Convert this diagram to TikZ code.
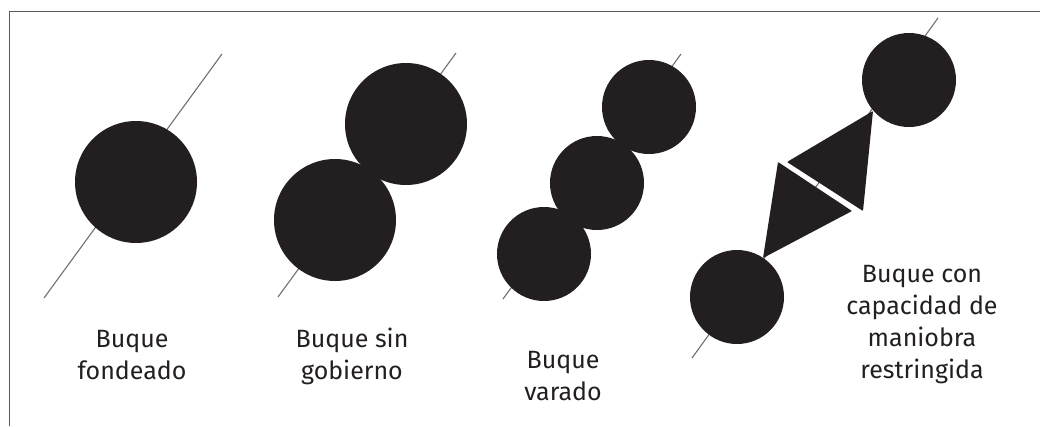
\documentclass[tikz,border=0pt]{standalone}
\usepackage{fontspec}
\setmainfont{Fira Sans}
\usetikzlibrary{positioning}
\definecolor{ink}{HTML}{231F20}
\definecolor{ropegray}{HTML}{707070}
\tikzset{
  disc/.style    = {circle, fill=ink, inner sep=0pt, minimum size=#1},
  disc/.default  = 94pt,
  rope/.style    = {ropegray, line width=1.1pt},
  frame/.style   = {draw=black!65, line width=1.8pt},
  cone/.style    = {fill=ink, rounded corners=0.8pt},
  lbl/.style     = {align=center, anchor=base, inner sep=0pt, text=ink,
                    font=\fontsize{25}{32}\selectfont},
}
\begin{document}
\begin{tikzpicture}[x=1pt,y=-1pt]
  \useasboundingbox (0,0) rectangle (1040,426);
  \draw[frame] (9.5,426) -- (9.5,11.5) -- (1040,11.5);

  % fondeado
  \draw[rope] (44,298) -- (222,54);
  \node[disc=122pt] (f1) at (136,182) {};
  \node[lbl] (tf) at (132,379) {Buque\\fondeado};

  % sin gobierno
  \draw[rope] (278,297) -- (456,53);
  \node[disc=122pt] (s1) at (335,220) {};
  \node[disc=122pt] (s2) at (406,124) {};
  \node[lbl] (ts) at (352,379) {Buque sin\\gobierno};

  % varado
  \draw[rope] (503,299) -- (681,54);
  \node[disc] (v1) at (544,254) {};
  \node[disc] (v2) at (597,183) {};
  \node[disc] (v3) at (649,107) {};
  \node[lbl] (tv) at (563,400) {Buque\\varado};

  % maniobra restringida
  \draw[rope] (692,358) -- (938,18);
  \node[disc] (r1) at (737,297) {};
  \node[disc] (r2) at (909,80) {};
  \fill[cone] (787,162) -- (873,111) -- (863,211) -- cycle;
  \fill[cone] (778,162) -- (852,211) -- (763,258) -- cycle;
  \node[lbl] (tr) at (922,378) {Buque con\\capacidad de\\maniobra\\restringida};
\end{tikzpicture}
\end{document}
